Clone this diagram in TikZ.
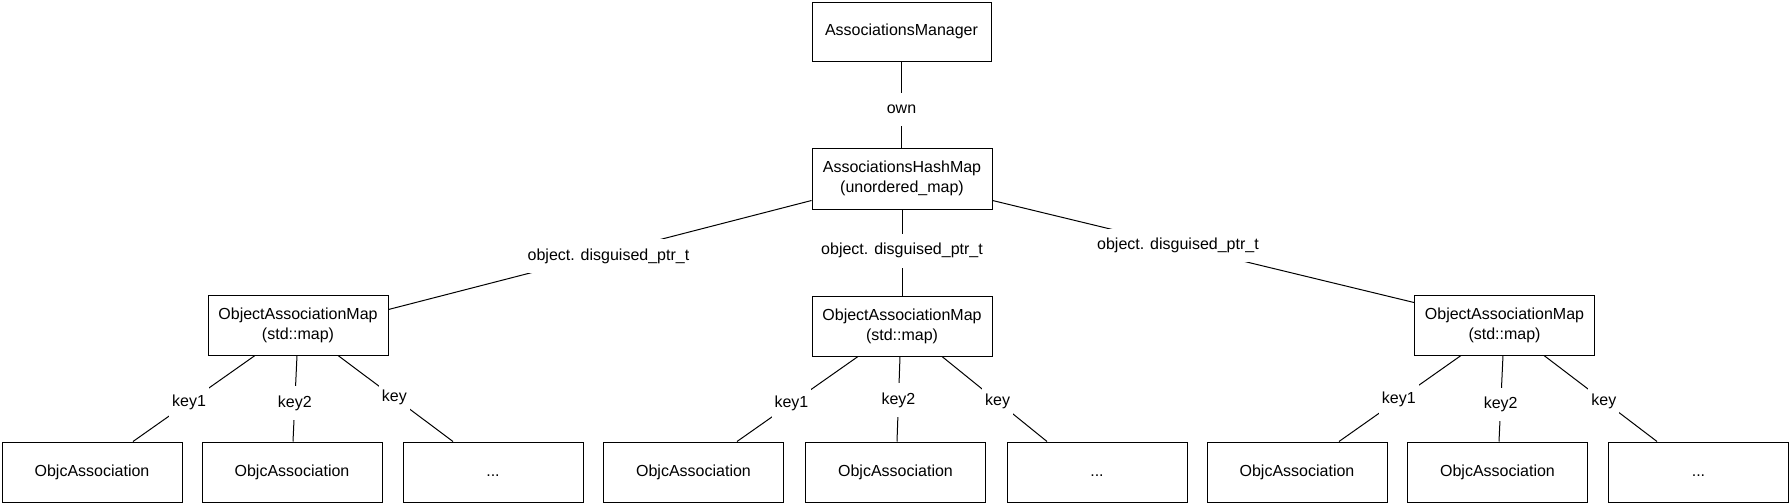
\documentclass[tikz,border=0pt]{standalone}
\usepackage{fontspec}
\setmainfont{Liberation Sans}
\usetikzlibrary{calc}
\begin{document}
\begin{tikzpicture}[x=0.5pt,y=-0.5pt,
  box/.style={draw, line width=0.5pt, minimum width=90pt, minimum height=30pt, inner sep=0pt, align=center, font=\fontsize{8}{10}\selectfont},
  conn/.style={draw, line width=0.5pt},
  lbl/.style={fill=white, inner xsep=1.5pt, inner ysep=4.5pt, text height=6pt, text depth=1.8pt, font=\fontsize{8}{10}\selectfont}]
\useasboundingbox (0,0) rectangle (1789,503);
% boxes
\node[box, minimum width=89.5pt, minimum height=29.5pt] (mgr) at (901.5,31.5) {AssociationsManager};
\node[box, minimum height=30.5pt] (hash) at (902,178.5) {AssociationsHashMap\\(unordered\_map)};
\node[box] (oam1) at (298,325) {ObjectAssociationMap\\(std::map)};
\node[box] (oam2) at (902,326) {ObjectAssociationMap\\(std::map)};
\node[box] (oam3) at (1504.5,325) {ObjectAssociationMap\\(std::map)};
\node[box] (c1) at (92,472) {ObjcAssociation};
\node[box] (c2) at (292,472) {ObjcAssociation};
\node[box] (c3) at (493,472) {\vphantom{Ojy}...};
\node[box] (c4) at (693.5,472) {ObjcAssociation};
\node[box] (c5) at (895.5,472) {ObjcAssociation};
\node[box] (c6) at (1097,472) {\vphantom{Ojy}...};
\node[box] (c7) at (1297,472) {ObjcAssociation};
\node[box] (c8) at (1497.5,472) {ObjcAssociation};
\node[box] (c9) at (1698.5,472) {\vphantom{Ojy}...};
% top connectors
\draw[conn] (mgr.south) -- node[lbl, pos=0.56] {own} (mgr.south |- hash.north);
\draw[conn] (hash.south) -- node[lbl, pos=0.48] {object. disguised\_ptr\_t} (hash.south |- oam2.north);
\draw[conn] ($(hash.south west)+(0,-9)$) -- node[lbl, pos=0.48, yshift=-1.5pt] {object. disguised\_ptr\_t} ($(oam1.north east)+(0,15)$);
\draw[conn] ($(hash.south east)+(0,-9)$) -- node[lbl, pos=0.44] {object. disguised\_ptr\_t} ($(oam3.north west)+(0,8)$);
% group 1
\draw[conn] ($(oam1.south)+(-43,0)$) -- node[lbl, pos=0.54] {key1} ($(c1.north)+(41,0)$);
\draw[conn] ($(oam1.south)+(-1,0)$) -- node[lbl, pos=0.55] {key2} ($(c2.north)+(1,0)$);
\draw[conn] ($(oam1.south)+(40,0)$) -- node[lbl, pos=0.49] {key} ($(c3.north)+(-40,0)$);
% group 2
\draw[conn] ($(oam2.south)+(-44,0)$) -- node[lbl, pos=0.55] {key1} ($(c4.north)+(43.5,0)$);
\draw[conn] ($(oam2.south)+(-2,0)$) -- node[lbl, pos=0.51] {key2} ($(c5.north)+(1.5,0)$);
\draw[conn] ($(oam2.south)+(40,0)$) -- node[lbl, pos=0.53] {key} ($(c6.north)+(-50,0)$);
% group 3
\draw[conn] ($(oam3.south)+(-43.5,0)$) -- node[lbl, pos=0.51] {key1} ($(c7.north)+(42,0)$);
\draw[conn] ($(oam3.south)+(-1.5,0)$) -- node[lbl, pos=0.57] {key2} ($(c8.north)+(1.5,0)$);
\draw[conn] ($(oam3.south)+(39.5,0)$) -- node[lbl, pos=0.53] {key} ($(c9.north)+(-41.5,0)$);
\end{tikzpicture}
\end{document}
